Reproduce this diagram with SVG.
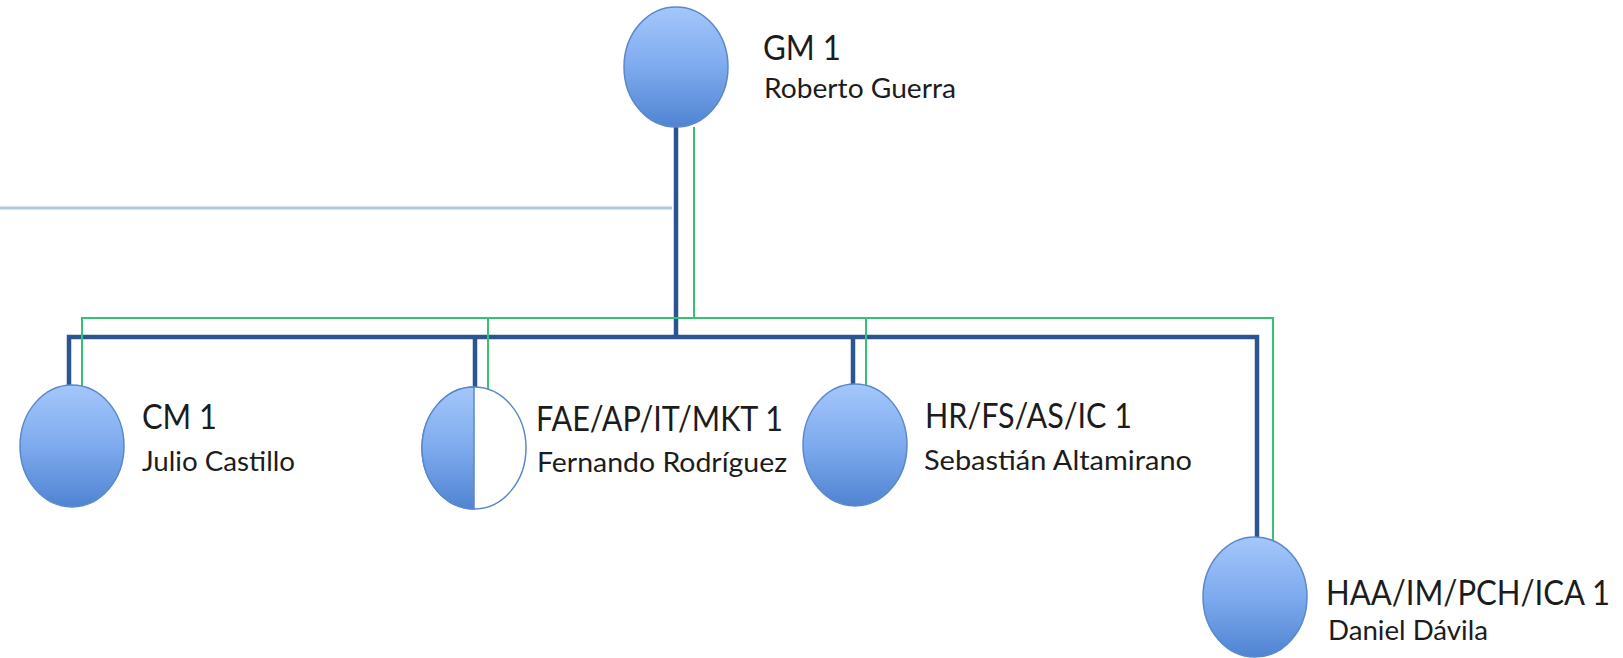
<svg xmlns="http://www.w3.org/2000/svg" width="1623" height="658" viewBox="0 0 1623 658">
  <style>
    .title { font-family: Lato, "Open Sans", "Liberation Sans", sans-serif; font-size: 34px; fill: #1c1c1c; }
    .name { font-family: Lato, "Open Sans", "Liberation Sans", sans-serif; font-size: 27px; fill: #1c1c1c; }
    .ball { fill: url(#ballFill); stroke: #5b88c9; stroke-width: 1.5; }
    .blue { fill: none; stroke: #2b5592; stroke-width: 4.5; }
    .green { fill: none; stroke: #36c273; stroke-width: 2; }
    .faint { fill: none; stroke: #b3c6e0; stroke-width: 3; }
  </style>
  <defs>
    <linearGradient id="ballFill" x1="0" y1="0" x2="0" y2="1">
      <stop offset="0" stop-color="#a4c7fb"/>
      <stop offset="0.5" stop-color="#7eaaee"/>
      <stop offset="1" stop-color="#4f84d2"/>
    </linearGradient>
  </defs>

  <rect width="1623" height="658" fill="#ffffff"/>

  <!-- connectors -->
  <g id="connectors">
    <path class="faint" d="M0,208 H672"/>
    <!-- reporting lines (blue) -->
    <path class="blue" d="M676,127 V337"/>
    <path class="blue" d="M69,386 V337 H1257 V538"/>
    <path class="blue" d="M475,337 V388"/>
    <path class="blue" d="M853,337 V385"/>
    <!-- secondary lines (green) -->
    <path class="green" d="M694,127 V318"/>
    <path class="green" d="M82,387 V318 H1273 V540"/>
    <path class="green" d="M488,318 V389"/>
    <path class="green" d="M866,318 V386"/>
  </g>

  <!-- GM -->
  <g id="node-gm">
    <ellipse class="ball" cx="676" cy="67" rx="52" ry="60"/>
    <text class="title" x="763" y="60" textLength="78" lengthAdjust="spacingAndGlyphs">GM 1</text>
    <text class="name" x="764" y="98" textLength="192" lengthAdjust="spacingAndGlyphs">Roberto Guerra</text>
  </g>

  <!-- CM -->
  <g id="node-cm">
    <ellipse class="ball" cx="72" cy="446" rx="52" ry="61"/>
    <text class="title" x="142" y="429" textLength="75" lengthAdjust="spacingAndGlyphs">CM 1</text>
    <text class="name" x="142" y="471" textLength="153" lengthAdjust="spacingAndGlyphs">Julio Castillo</text>
  </g>

  <!-- FAE/AP/IT/MKT (half filled) -->
  <g id="node-fae">
    <ellipse cx="474" cy="448" rx="52" ry="61" fill="#ffffff" stroke="#5b88c9" stroke-width="1.5"/>
    <path class="ball" d="M474,387 A52,61 0 0 0 474,509 Z"/>
    <text class="title" x="536" y="431" textLength="247" lengthAdjust="spacingAndGlyphs">FAE/AP/IT/MKT 1</text>
    <text class="name" x="537" y="472" textLength="250" lengthAdjust="spacingAndGlyphs">Fernando Rodríguez</text>
  </g>

  <!-- HR/FS/AS/IC -->
  <g id="node-hr">
    <ellipse class="ball" cx="855" cy="445" rx="52" ry="61"/>
    <text class="title" x="925" y="428" textLength="207" lengthAdjust="spacingAndGlyphs">HR/FS/AS/IC 1</text>
    <text class="name" x="924" y="470" textLength="268" lengthAdjust="spacingAndGlyphs">Sebastián Altamirano</text>
  </g>

  <!-- HAA/IM/PCH/ICA -->
  <g id="node-haa">
    <ellipse class="ball" cx="1255" cy="597" rx="52" ry="60"/>
    <text class="title" x="1326" y="605" font-size="28" textLength="284" lengthAdjust="spacingAndGlyphs">HAA/IM/PCH/ICA 1</text>
    <text class="name" x="1328" y="640" textLength="160" lengthAdjust="spacingAndGlyphs">Daniel Dávila</text>
  </g>
</svg>
